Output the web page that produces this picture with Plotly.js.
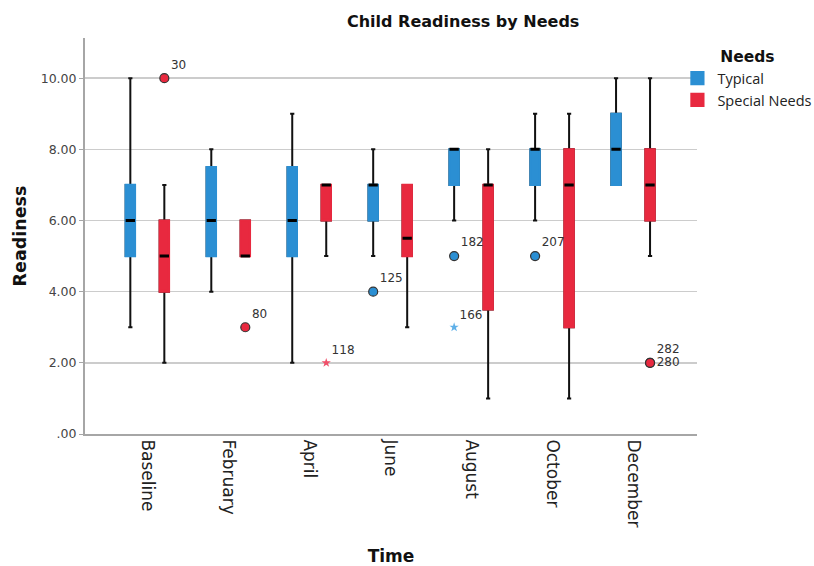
<!DOCTYPE html>
<html>
<head>
<meta charset="utf-8">
<script src="https://cdn.plot.ly/plotly-3.0.1.min.js"></script>
<style>html,body{margin:0;padding:0;background:#fff;}#chart{width:814px;height:566px;}</style>
</head>
<body>
<div id="chart"></div>
<script>
// ---- data ----
const categories = ['Baseline','February','April','June','August','October','December'];

// Typical
const typLower  = [3, 4, 2, 5, 6, 6, 7];
const typQ1     = [5, 5, 5, 6, 7, 7, 7];
const typMedian = [6, 6, 6, 7, 8, 8, 8];
const typQ3     = [7, 7.5, 7.5, 7, 8, 8, 9];
const typUpper  = [10, 8, 9, 8, 8, 9, 10];

// Special Needs
const spLower  = [2, 5, 5, 3, 1, 1, 5];
const spQ1     = [4, 5, 6, 5, 3.5, 3, 6];
const spMedian = [5, 5, 7, 5.5, 7, 7, 7];
const spQ3     = [6, 6, 7, 7, 7, 8, 8];
const spUpper  = [7, 6, 7, 7, 8, 9, 10];

// outliers (circles) and extremes (stars)
const typOutCat = ['June','August','October'];
const typOutVal = [4, 5, 5];
const typOutId  = ['125','182','207'];
const typExtCat = ['August'];
const typExtVal = [3];
const typExtId  = ['166'];

const spOutCat = ['Baseline','February','December','December'];
const spOutVal = [10, 3, 2, 2];
const spOutId  = ['30','80','282','280'];
const spExtCat = ['April'];
const spExtVal = [2];
const spExtId  = ['118'];

// ---- styling ----
const BLUE = '#2b8fd3';
const RED = '#e8293f';
const OFF = 0.21;
const BW = 0.115;
const FONT = '"DejaVu Sans", "Open Sans", sans-serif';

const idx = c => categories.indexOf(c);
const pos = (cats, off) => cats.map(c => idx(c) + off);
const allX = off => categories.map((c, i) => i + off);

function layers(name, color, off, lo, q1, med, q3, up, showLegend) {
  const x = allX(off);
  return [
    { // whiskers
      type: 'box', x: x, q1: q1, median: med, q3: q3, lowerfence: lo, upperfence: up,
      width: BW, whiskerwidth: 0.45, fillcolor: 'rgba(0,0,0,0)',
      line: {color: '#111', width: 2}, showlegend: false, hoverinfo: 'skip', name: name
    },
    { // boxes
      type: 'box', x: x, q1: q1, median: q1, q3: q3, lowerfence: q1, upperfence: q3,
      width: BW, whiskerwidth: 0, fillcolor: color,
      line: {color: color, width: 2.2}, showlegend: showLegend, name: name, hoverinfo: 'skip'
    },
    { // medians
      type: 'box', x: x, q1: med, median: med, q3: med, lowerfence: med, upperfence: med,
      width: BW, whiskerwidth: 0, fillcolor: 'rgba(0,0,0,0)',
      line: {color: '#000', width: 3}, showlegend: false, hoverinfo: 'skip', name: name
    }
  ];
}

const labelFont = {family: FONT, size: 12, color: '#333'};

const traces = [
  ...layers('Typical', BLUE, -OFF, typLower, typQ1, typMedian, typQ3, typUpper, true),
  ...layers('Special Needs', RED, OFF, spLower, spQ1, spMedian, spQ3, spUpper, true),
  {
    type: 'scatter', mode: 'markers+text', x: pos(typOutCat, -OFF), y: typOutVal, text: typOutId,
    textposition: 'top right', textfont: labelFont,
    marker: {symbol: 'circle', size: 9, color: BLUE, line: {color: '#333', width: 1.2}},
    showlegend: false, hoverinfo: 'skip', cliponaxis: false
  },
  {
    type: 'scatter', mode: 'markers+text', x: pos(typExtCat, -OFF), y: typExtVal, text: typExtId,
    textposition: 'top right', textfont: labelFont,
    marker: {symbol: 'star', size: 7, color: '#5fb0e8'},
    showlegend: false, hoverinfo: 'skip', cliponaxis: false
  },
  {
    type: 'scatter', mode: 'markers+text', x: pos(spOutCat, OFF), y: spOutVal, text: spOutId,
    textposition: ['top right','top right','top right','middle right'], textfont: labelFont,
    marker: {symbol: 'circle', size: 9, color: RED, line: {color: '#333', width: 1.2}},
    showlegend: false, hoverinfo: 'skip', cliponaxis: false
  },
  {
    type: 'scatter', mode: 'markers+text', x: pos(spExtCat, OFF), y: spExtVal, text: spExtId,
    textposition: 'top right', textfont: labelFont,
    marker: {symbol: 'star', size: 7, color: '#f0506a'},
    showlegend: false, hoverinfo: 'skip', cliponaxis: false
  }
];

const layout = {
  width: 814, height: 566,
  margin: {l: 85, r: 117, t: 38, b: 132, autoexpand: false},
  paper_bgcolor: '#fff', plot_bgcolor: '#fff',
  font: {family: FONT, color: '#222'},
  boxmode: 'overlay',
  title: {text: '<b>Child Readiness by Needs</b>', x: 0.569, xanchor: 'center', y: 0.962, yanchor: 'middle',
          font: {family: FONT, size: 16, color: '#111'}},
  xaxis: {
    range: [-0.77, 6.79], tickmode: 'array', tickvals: categories.map((c, i) => i), ticktext: categories,
    tickangle: 90, tickfont: {family: FONT, size: 17, color: '#222'},
    showgrid: false, zeroline: false, showline: true, linecolor: '#a6a6a6', linewidth: 2,
    ticks: '', fixedrange: true, automargin: false,
    title: {text: '<b>Time</b>', font: {family: FONT, size: 17, color: '#111'}, standoff: 26}
  },
  yaxis: {
    range: [0, 11.13], tickmode: 'array', tickvals: [0,2,4,6,8,10],
    ticktext: ['.00','2.00','4.00','6.00','8.00','10.00'],
    tickfont: {family: FONT, size: 12.5, color: '#444'},
    showgrid: true, gridcolor: '#cccccc', gridwidth: 1.5, zeroline: false,
    showline: true, linecolor: '#a6a6a6', linewidth: 2, automargin: false,
    ticks: 'outside', ticklen: 4, tickcolor: '#a6a6a6',
    title: {text: '<b>Readiness</b>', font: {family: FONT, size: 17.5, color: '#111'}, standoff: 10}
  },
  legend: {
    x: 0.968, xanchor: 'left', y: 0.99, yanchor: 'top',
    title: {text: '<b>Needs</b>', side: 'top center', font: {family: FONT, size: 15.5, color: '#111'}},
    font: {family: '"Open Sans", sans-serif', size: 14.5, color: '#222'},
    itemwidth: 30, tracegroupgap: 0, bgcolor: 'rgba(0,0,0,0)'
  },
  showlegend: true
};

Plotly.newPlot('chart', traces, layout, {staticPlot: true, displayModeBar: false});
</script>
</body>
</html>
